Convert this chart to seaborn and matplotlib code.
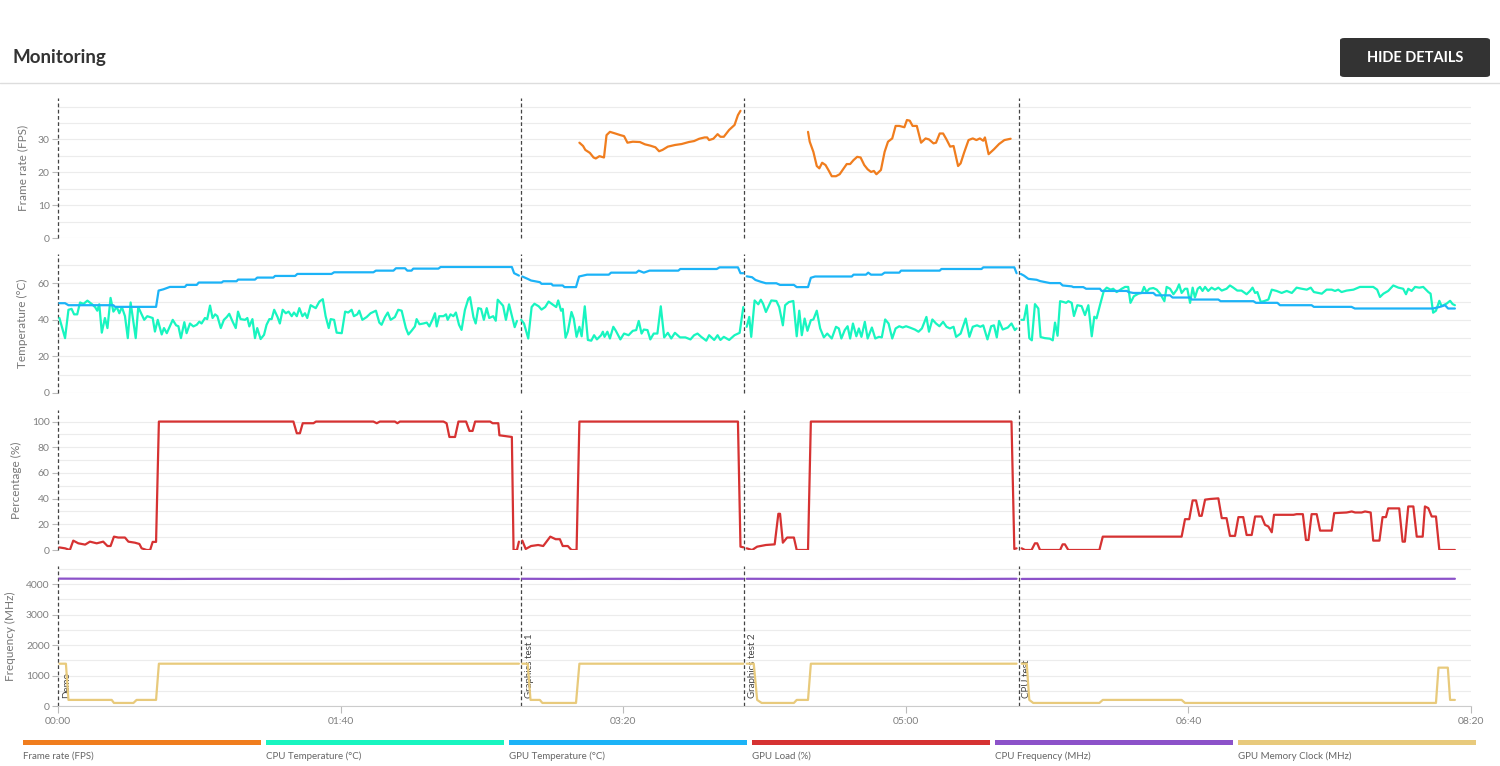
import numpy as np
import pandas as pd
import matplotlib
matplotlib.use("Agg")
import matplotlib.pyplot as plt
import seaborn as sns
from matplotlib.ticker import MultipleLocator, FixedLocator, FuncFormatter
from matplotlib.patches import Rectangle, FancyBboxPatch
from matplotlib.lines import Line2D

sns.set_theme(style="white")
plt.rcParams["font.family"] = ["Lato", "DejaVu Sans"]

# test markers (seconds)
marker_t = [0, 163.8, 242.8, 339.9]
marker_names = ["Demo", "Graphics test 1", "Graphics test 2", "CPU test"]

# Frame rate (FPS)
fps_t = [184.5, 185.8, 186.6, 188.2, 189.5, 190.3, 191.6, 193.2, 194.1, 195.3, 197.2, 199.0, 200.3,
         201.5, 203.4, 205.9, 207.7, 209.6, 211.4, 212.7, 213.9, 215.8, 218.3, 220.7, 223.2, 225.1,
         226.9, 228.8, 229.7, 230.4, 231.9, 233.4, 234.4, 235.6, 237.5, 239.4, 240.6, 241.5,
         265.4, 266.0, 267.3, 268.5, 269.4, 270.4, 271.6, 272.8, 273.8, 275.3, 276.6, 277.8, 279.1,
         280.3, 281.5, 282.8, 284.0, 285.3, 286.5, 287.7, 288.7, 289.6, 291.2, 292.5, 293.7, 295.2,
         296.4, 297.7, 299.5, 300.4, 301.4, 302.4, 303.9, 305.4, 307.0, 308.2, 309.8, 310.7, 312.0,
         313.2, 314.4, 315.7, 316.9, 318.5, 319.4, 320.6, 322.2, 323.7, 325.0, 326.2, 327.4, 328.0,
         329.3, 331.2, 333.0, 334.9, 337.1]
fps_v = [29, 28, 26.8, 25.9, 24.5, 24.2, 24.9, 24.5, 31.3, 32.3, 31.8, 31.3, 31,
         29, 29.3, 29.2, 28.5, 28.1, 27.6, 26.4, 26.8, 27.8, 28.3, 28.6, 29.2, 29.5,
         30.2, 30.6, 30.6, 29.8, 30.2, 31.6, 30.8, 30.8, 32.9, 34.4, 37.4, 38.7,
         32.3, 29.3, 26.2, 21.9, 21.2, 22.9, 22.2, 20.4, 18.8, 18.8, 19.4, 20.9, 22.5,
         22.5, 23.7, 24.7, 24.5, 22.2, 20.9, 20.1, 20.4, 19.4, 20.7, 26.2, 29.3, 30.3,
         34.1, 34.1, 33.7, 35.9, 35.7, 34.1, 34.1, 29, 30.3, 30, 28.8, 29, 31.8,
         31.8, 30, 27.8, 28, 21.9, 22.7, 25.9, 29.8, 30.3, 29.8, 30.3, 29.6, 30.6,
         25.5, 27, 28.6, 29.8, 30.2]

# CPU Temperature (°C)
cpu_temp_t = [0.5, 2.5, 3.7, 4.8, 5.7, 6.8, 7.8, 9.0, 10.4, 11.9, 13.1, 13.9, 14.6, 15.5, 16.6, 17.5,
              18.6, 19.6, 20.8, 21.7, 22.6, 23.7, 24.7, 25.7, 27.5, 28.4, 29.6, 30.5, 31.6, 33.5, 34.3,
              35.3, 36.7, 37.5, 38.5, 40.6, 41.8, 42.6, 43.5, 44.7, 45.5, 46.7, 47.9, 49.1, 50.0, 50.8,
              52.0, 52.8, 53.8, 54.7, 55.6, 56.4, 57.6, 58.7, 59.7, 60.6, 61.8, 62.9, 63.7, 64.6, 66.2,
              67.0, 67.7, 68.8, 69.7, 70.5, 71.7, 72.9, 73.8, 74.8, 75.6, 76.5, 77.7, 78.5, 79.5, 80.6,
              81.6, 82.7, 83.5, 84.5, 85.4, 86.5, 87.4, 88.2, 89.4, 91.2, 92.5, 93.7, 94.7, 95.8, 96.5,
              97.7, 98.6, 100.4, 101.6, 102.7, 103.9, 104.7, 105.9, 106.6, 107.7, 109.2, 110.6, 112.5,
              113.7, 114.5, 115.7, 116.7, 117.7, 119.2, 120.4, 121.6, 123.1, 124.0, 125.1, 126.3, 126.9,
              127.9, 129.3, 130.5, 131.4, 132.6, 133.4, 134.0, 134.9, 136.4, 137.3, 137.9, 138.9, 139.9,
              140.8, 141.9, 142.8, 144.0, 145.2, 145.8, 147.0, 147.8, 148.7, 149.7, 150.7, 151.7, 152.6,
              154.0, 154.9, 155.6, 157.5, 158.5, 159.6, 161.6, 162.4, 163.9, 164.9, 166.4, 167.6, 168.6,
              170.1, 171.1, 172.4, 173.6, 175.1, 176.3, 177.0, 178.0, 178.6, 179.6, 180.4, 181.7, 182.5,
              183.5, 184.5, 185.3, 186.4, 187.5, 188.7, 189.7, 190.7, 192.2, 192.8, 193.4, 194.4, 195.3,
              196.5, 197.4, 199.0, 200.3, 201.9, 203.4, 204.6, 205.5, 206.5, 207.3, 208.6, 209.6, 210.8,
              212.1, 213.3, 214.5, 215.8, 217.0, 218.3, 220.1, 222.0, 223.8, 225.1, 226.3, 227.6, 229.4,
              230.4, 232.2, 233.4, 234.4, 235.6, 237.5, 239.4, 241.2, 242.5,
              243.7, 244.6, 245.3, 246.5, 247.8, 248.7, 249.5, 250.5, 252.4, 254.2, 255.2, 256.5, 257.3,
              258.6, 260.2, 261.4, 262.3, 263.2, 264.2, 265.2, 266.4, 267.3, 268.5, 269.7, 271.0, 272.2,
              273.8, 275.3, 276.3, 277.2, 278.4, 279.4, 280.3, 281.3, 282.5, 283.4, 284.3, 285.5, 286.5,
              288.0, 289.2, 290.5, 291.5, 292.7, 293.9, 295.2, 296.4, 297.7, 298.9, 300.1, 301.4, 303.2,
              304.5, 305.7, 307.3, 308.2, 309.4, 310.7, 311.9, 313.2, 314.4, 315.6, 316.9, 317.8, 319.4,
              321.2, 322.5, 323.7, 325.2, 326.4, 327.4, 328.9, 330.2, 331.2, 332.2, 333.0, 334.3, 336.1,
              337.4, 338.6, 339.2,
              340.9, 341.8, 342.8, 343.7, 344.6, 345.7, 346.9, 347.7, 349.2, 351.0, 352.0, 352.8, 353.7,
              354.6, 355.7, 356.7, 357.5, 358.7, 359.5, 360.7, 362.2, 363.4, 364.6, 365.8, 366.7, 367.5,
              368.7, 370.1, 371.1, 372.5, 373.4, 374.6, 375.5, 376.4, 377.6, 378.7, 379.5, 380.7, 382.3,
              383.5, 384.3, 385.2, 386.2, 387.6, 388.8, 390.0, 391.5, 392.3, 393.5, 394.7, 395.9, 396.7,
              397.6, 398.8, 399.6, 400.6, 401.5, 402.3, 403.3, 404.1, 405.0, 405.9, 407.0, 408.2, 409.4,
              410.6, 411.8, 413.5, 414.7, 415.9, 417.3, 418.8, 420.6, 421.8, 422.7, 423.6, 424.4, 425.6,
              426.7, 428.3, 429.5, 431.2, 433.0, 434.8, 436.6, 438.3, 440.1, 441.9, 443.3, 444.4, 446.0,
              447.2, 448.9, 450.7, 451.9, 453.0, 454.2, 456.0, 458.4, 460.7, 463.1, 465.4, 466.8, 467.8,
              469.0, 470.7, 472.5, 474.3, 476.0, 477.0, 477.8, 479.0, 480.2, 481.7, 483.1, 484.9, 485.7,
              486.6, 487.6, 488.8, 489.6, 491.4, 492.6, 493.5, 494.3]
cpu_temp_v = [41, 30, 45.5, 46, 43, 43, 49.5, 48.7, 50.5, 48.7, 47, 45, 48.5, 33, 41, 35.5,
              52, 44.5, 47, 43.6, 47, 42, 30, 49.5, 30, 47, 43, 40, 42, 41, 33.6,
              40, 32, 35.5, 32.7, 40, 37, 36.5, 30, 38.7, 32.7, 38, 36.4, 37.3, 39, 38,
              41, 40.4, 47.8, 41, 43, 42, 35.5, 40, 41.5, 43.3, 39, 35.5, 44.5, 40.4, 40,
              41, 36.4, 40.4, 30, 35.5, 29.5, 31.8, 37.3, 40.4, 40.4, 45.5, 41.5, 38, 45.5, 43.6,
              44.5, 42, 44, 42, 46.4, 42, 43.6, 41, 48, 46.4, 50, 51.3, 42, 35.5, 40.4,
              40, 33, 32.7, 44.5, 44, 45.5, 42, 43, 45, 40, 41.5, 43.6, 45,
              38.5, 37.3, 41.5, 44, 40, 41.5, 45.5, 45, 35.5, 32, 34, 36.4, 40.4,
              37.6, 38, 38.5, 36.4, 40.4, 43.6, 36.4, 42, 42, 43, 40, 43, 42,
              44, 37.3, 34.5, 45.5, 51.5, 52.4, 41.5, 38, 46.4, 46, 40, 46.4, 41,
              42, 39.5, 51, 47.7, 40, 48.5, 36, 39.4, 40, 38, 29.8, 47, 48.8,
              47.4, 45.6, 47, 50, 48.3, 47, 50.6, 45, 46, 30.2, 33.5, 44.3, 40.7,
              30.7, 36.2, 31, 47.4, 29, 28.6, 31.6, 29.3, 31.6, 33.5, 30.7, 33.5, 29.8,
              36.2, 34, 29.3, 32.5, 31.6, 34, 34.4, 39.4, 32.5, 34.7, 34.4, 29.3, 32.5,
              32.5, 47.4, 30.4, 32.9, 29.8, 32.9, 30.4, 30.4, 29.3, 31.6, 32.5, 30.7, 28.6,
              31.6, 29, 31.6, 29, 30.7, 29, 31.6, 32.9, 47,
              36.2, 41.6, 30.7, 50.6, 48.5, 51, 48.8, 44.3, 50.6, 50.3, 47, 37, 48,
              49.7, 50.3, 31, 45, 31.6, 40.7, 34, 39.8, 40.2, 45, 35.3, 30.4, 32.5,
              29.8, 36.2, 35.3, 29.8, 34.4, 36.5, 29.8, 38, 31, 35.3, 30.7, 38.9, 29.8,
              35.8, 29.8, 30.7, 30.4, 40.2, 38, 29.8, 35.3, 36.5, 35.8, 36.5, 35.8, 34.7,
              33.5, 35.3, 41.6, 33.5, 40.2, 38, 36.5, 38.9, 36.2, 35.3, 36.2, 30.7, 32.5,
              40.7, 30.7, 36.2, 37, 36.2, 37, 29.3, 36.5, 37, 30.4, 39.4, 34.7, 35.8,
              38, 34.4, 35.3,
              40, 40, 48, 30, 28.8, 48.6, 46.2, 30.6, 30, 29.7, 28.8, 38.5, 31.3,
              50.2, 49.8, 49.3, 50.2, 49.3, 42.1, 48, 47.5, 42.6, 48, 31, 41.7, 40.8,
              48, 56, 57.6, 56.5, 57, 55.2, 56, 57, 58, 58, 49.3, 52.9, 54.3,
              54.7, 58, 55.2, 57, 57.4, 56.5, 54.3, 50.2, 58, 57, 54, 56.5, 59.4,
              54.7, 57, 57, 49.3, 57.6, 52.2, 57, 58, 55.8, 58, 55.8, 57.6, 56.5,
              57.6, 56, 57, 58.8, 57.6, 56, 56, 54, 55.8, 57.6, 54.7, 55.2, 49.8,
              50.2, 51.1, 56.5, 55.8, 54.7, 55.8, 54.7, 57.6, 57, 56.5, 57.6, 55.2, 54.7,
              54.3, 56.5, 56.5, 55.8, 56.5, 55.2, 56, 56.5, 58, 58, 58, 56.5, 52.5,
              54.3, 55.8, 58.8, 57.6, 57, 54, 57, 55.8, 58, 57.6, 58, 55.2, 54.3,
              43.9, 45, 50.4, 47.5, 48.9, 50.4, 48.6, 48]

# GPU Temperature (°C)
gpu_temp_t = [0.5, 2.5, 3.7, 19.6, 20.2, 34.7, 35.6, 37.3, 39.6, 44.9, 45.5, 49.1, 49.8, 57.9, 58.5,
              63.2, 63.7, 69.7, 70.5, 76.2, 76.8, 83.9, 84.7, 96.8, 97.7, 111.6, 112.5, 118.7, 119.6,
              122.8, 123.6, 125.1, 125.7, 134.6, 135.4, 160.6, 161.4, 163.1,
              164.3, 166.2, 167.4, 170.5, 171.1, 174.6, 175.1, 178.6, 179.2, 183.3, 184.4, 187.2, 194.9,
              195.7, 204.6, 205.5, 207.3, 209.3, 219.5, 220.2, 233.1, 234.1, 240.6, 241.5, 242.5,
              243.7, 245.6, 246.8, 248.7, 250.5, 254.2, 255.5, 260.4, 261.4, 265.4, 266.4, 267.9, 280.9,
              281.5, 285.9, 286.7, 287.7, 291.5, 292.5, 297.7, 298.3, 312.0, 312.6, 326.8, 327.4, 338.4,
              339.2,
              340.7, 341.8, 343.4, 346.3, 347.5, 351.0, 354.6, 355.5, 358.7, 359.3, 362.8, 363.8, 368.7,
              369.3, 378.2, 378.8, 380.5, 387.6, 388.5, 393.5, 394.4, 400.6, 401.2, 410.6, 411.4, 423.0,
              423.9, 431.5, 432.4, 443.6, 444.4, 457.7, 458.9, 486.6, 489.0, 490.8, 491.9, 494.3]
gpu_temp_v = [49.1, 49.1, 48, 48, 47.1, 47.1, 56, 56.7, 58, 58, 59.1, 59.1, 60.4, 60.4, 61.1,
              61.1, 62, 62, 63.1, 63.1, 64, 64, 65.1, 65.1, 66, 66, 66.9, 66.9, 68.2,
              68.2, 66.9, 66.9, 68, 68, 68.9, 68.9, 65.5, 64.2,
              63.7, 62.4, 61.5, 60.6, 59.7, 59.7, 58.8, 58.8, 57.9, 57.9, 63.7, 64.7, 64.7,
              65.8, 65.8, 66.9, 65.8, 66.9, 66.9, 67.8, 67.8, 68.7, 68.7, 65.5, 65.5,
              63.8, 63.3, 61.8, 60.8, 60, 60, 59.1, 59.1, 57.9, 57.9, 63, 63.7, 63.7,
              64.7, 64.7, 65.8, 64.7, 64.7, 65.8, 65.8, 66.9, 66.9, 67.8, 67.8, 68.7, 68.7,
              65.5,
              65.1, 64.2, 62.4, 61.9, 61.2, 60.1, 60.1, 58.8, 58.3, 57.9, 57.9, 57, 57,
              55.8, 55.8, 55.2, 54.7, 54.7, 53.4, 53.4, 52.2, 52.2, 51.1, 51.1, 50.2, 50.2,
              49.3, 49.3, 48, 48, 47.1, 47.1, 46.2, 46.2, 47.1, 48, 46.2, 46.2]

# GPU Load (%)
gpu_load_t = [0.5, 2.5, 4.2, 5.4, 7.2, 9.6, 11.3, 13.7, 16.0, 17.5, 18.6, 19.8, 21.3, 23.7, 24.9, 27.2,
              28.8, 29.6, 31.4, 32.6, 33.5, 34.7, 35.7, 83.3, 84.5, 85.6, 86.6, 90.4, 91.3, 111.6, 112.8,
              113.9, 119.2, 120.1, 121.0, 136.4, 137.5, 138.5, 140.5, 141.7, 144.4, 145.6, 146.7, 147.6,
              152.9, 153.8, 155.8, 156.2, 160.6, 161.2, 162.4, 163.1,
              164.3, 165.5, 167.4, 169.9, 171.7, 174.2, 176.1, 177.6, 178.6, 180.4, 181.7, 183.5, 184.5,
              240.6, 241.5, 242.5,
              243.7, 245.6, 247.4, 250.5, 253.6, 254.9, 255.5, 256.5, 258.0, 260.4, 261.4, 265.4, 266.4,
              337.4, 338.4, 339.2,
              341.0, 342.2, 344.5, 345.7, 346.5, 347.5, 354.6, 355.5, 356.3, 357.5, 368.5, 369.7, 397.6,
              398.8, 400.3, 401.5, 402.7, 403.9, 404.7, 405.9, 407.6, 410.6, 411.8, 413.5, 414.7, 416.5,
              417.7, 419.4, 420.6, 422.4, 423.6, 425.9, 427.1, 428.3, 429.5, 430.3, 437.2, 438.3, 440.5,
              441.6, 442.5, 443.6, 445.4, 446.6, 450.7, 451.6, 456.0, 457.8, 459.0, 461.3, 462.5, 464.5,
              465.4, 467.6, 468.7, 469.9, 470.7, 474.6, 475.8, 476.6, 477.8, 479.6, 480.8, 482.9, 483.7,
              484.9, 486.1, 487.6, 488.8, 494.3]
gpu_load_v = [2, 1.3, 0, 7.3, 5.2, 4.2, 6.5, 5.2, 6.5, 3.1, 3.1, 10.4, 9.7, 9.7, 6.5, 5.7,
              4.7, 1.3, 0, 0, 6.3, 6.3, 100, 100, 90.9, 90.9, 98.7, 98.7, 100, 100, 98.7,
              100, 100, 98.7, 100, 100, 98.7, 88, 88, 100, 100, 92.7, 92.7, 100,
              100, 98.7, 98.7, 89.3, 88, 0, 0, 6.5,
              7.3, 0.8, 3.1, 3.9, 3.1, 10.4, 8.4, 8.4, 3.1, 3.1, 0, 0, 100,
              100, 2.6, 2.1,
              1.3, 0, 2.6, 3.9, 4.4, 28.2, 28.2, 5.7, 9.7, 9.7, 0, 0, 100,
              100, 0.8, 1.3,
              1.3, 0, 0, 5.2, 5.2, 0, 0, 4.4, 4.4, 0, 0, 10.4, 10.4,
              24, 24, 38.6, 38.6, 26.6, 26.6, 39.2, 39.7, 40.2, 24.8, 24.8, 11, 11,
              25.6, 25.6, 11.7, 11.7, 26.1, 26.1, 19.6, 18.3, 13.8, 27.4, 27.4, 27.9, 27.9,
              7.8, 7.8, 27.9, 27.9, 15.1, 15.1, 28.7, 29.2, 30, 29.2, 29.2, 30, 29.2,
              7.3, 7.3, 25.6, 25.6, 32.4, 32.4, 6.5, 6.5, 33.9, 33.9, 10.4, 10.4, 33.9,
              32.6, 26.1, 26.1, 0, 0]

# CPU Frequency (MHz)
cpu_freq_t = [0.5, 20, 40, 60, 80, 100, 120, 140, 163.1,
              164.3, 180, 200, 220, 242.5,
              243.7, 270, 300, 320, 339.2,
              341.0, 370, 400, 430, 460, 494.3]
cpu_freq_v = [4185, 4180, 4175, 4180, 4180, 4175, 4180, 4180, 4175,
              4180, 4175, 4180, 4175, 4180,
              4180, 4175, 4180, 4175, 4180,
              4175, 4180, 4175, 4180, 4175, 4180]

# GPU Memory Clock (MHz)
mem_clock_t = [0.5, 2.8, 3.7, 19.0, 19.8, 26.7, 27.8, 34.7, 35.7, 163.1,
               164.3, 166.2, 167.2, 170.5, 171.4, 183.3, 184.5, 242.5,
               243.7, 246.2, 247.4, 249.0, 260.4, 261.4, 265.4, 266.4, 339.2,
               341.0, 342.8, 343.7, 345.1, 368.5, 369.7, 397.6, 398.8, 487.6, 488.5, 491.8, 492.6, 494.3]
mem_clock_v = [1390, 1390, 200, 200, 100, 100, 200, 200, 1390, 1390,
               1390, 1390, 200, 200, 100, 100, 1390, 1390,
               1390, 1390, 200, 100, 100, 200, 200, 1390, 1390,
               1390, 1390, 200, 100, 100, 200, 200, 100, 100, 1260, 1260, 200, 200]

series_names = ["Frame rate (FPS)", "CPU Temperature (°C)", "GPU Temperature (°C)",
                "GPU Load (%)", "CPU Frequency (MHz)", "GPU Memory Clock (MHz)"]
series_colors = ["#f07d1e", "#18f5c0", "#1cb3f7", "#d63232", "#8c52c9", "#e8ca7c"]

W, H = 1500, 766
fig = plt.figure(figsize=(W / 100, H / 100), dpi=100)
fig.patch.set_facecolor("white")


def draw(ax, t, v, color):
    df = pd.DataFrame({"t": t, "v": v})
    df["seg"] = np.searchsorted(marker_t, df["t"], side="right")
    sns.lineplot(data=df, x="t", y="v", units="seg", estimator=None, color=color,
                 lw=1.6, ax=ax, legend=False, zorder=3)


# panel boxes in pixels: (top, bottom)
panels = [(98, 238), (254, 393), (410, 550), (566, 706)]
ylabels = ["Frame rate (FPS)", "Temperature (°C)", "Percentage (%)", "Frequency (MHz)"]
ylims = [42.6, 76, 109, 4600]
major_ticks = [[0, 10, 20, 30], [0, 20, 40, 60], [0, 20, 40, 60, 80, 100], [0, 1000, 2000, 3000, 4000]]
minor = [5, 10, 10, 500]

axes = []
for i, (top, bot) in enumerate(panels):
    ax = fig.add_axes([58 / W, 1 - bot / H, 1413 / W, (bot - top) / H])
    axes.append(ax)

draw(axes[0], fps_t, fps_v, series_colors[0])
draw(axes[1], cpu_temp_t, cpu_temp_v, series_colors[1])
draw(axes[1], gpu_temp_t, gpu_temp_v, series_colors[2])
draw(axes[2], gpu_load_t, gpu_load_v, series_colors[3])
draw(axes[3], cpu_freq_t, cpu_freq_v, series_colors[4])
draw(axes[3], mem_clock_t, mem_clock_v, series_colors[5])

for i, ax in enumerate(axes):
    ax.set_xlim(0, 500)
    ax.set_ylim(0, ylims[i])
    ax.yaxis.set_major_locator(FixedLocator(major_ticks[i]))
    ax.yaxis.set_minor_locator(MultipleLocator(minor[i]))
    ax.grid(which="both", axis="y", color="#ececec", lw=0.8)
    ax.grid(False, axis="x")
    ax.set_axisbelow(True)
    for s in ["top", "right", "bottom", "left"]:
        ax.spines[s].set_visible(False)
    ax.tick_params(axis="y", which="major", left=True, length=4, width=0.8, color="#bbbbbb",
                   labelsize=7.5, labelcolor="#808080", pad=2)
    ax.tick_params(axis="y", which="minor", left=False)
    ax.set_ylabel(ylabels[i], fontsize=8.5, color="#777777", labelpad=7)
    ax.set_xlabel("")
    for m in marker_t:
        ax.axvline(m, color="#444444", ls=(0, (3, 2)), lw=0.9, zorder=2, clip_on=False)
    if i < 3:
        ax.tick_params(axis="x", bottom=False, labelbottom=False)

axb = axes[3]
axb.spines["bottom"].set_visible(True)
axb.spines["bottom"].set_color("#cccccc")
axb.spines["bottom"].set_linewidth(0.8)
axb.set_xticks([0, 100, 200, 300, 400, 500])
axb.xaxis.set_major_formatter(FuncFormatter(lambda x, p: f"{int(x) // 60:02d}:{int(x) % 60:02d}"))
axb.tick_params(axis="x", bottom=True, length=5, width=0.8, color="#bbbbbb",
                labelsize=7.5, labelcolor="#808080", pad=3)
for m, name in zip(marker_t, marker_names):
    axb.text(m + 1.3, 0.06, name, transform=axb.get_xaxis_transform(), rotation=90,
             ha="left", va="bottom", fontsize=7, color="#444444", zorder=2)

# header
fig.text(13 / W, 1 - 58 / H, "Monitoring", fontsize=13.5, fontweight="bold", color="#333333",
         va="center", ha="left")
fig.add_artist(Line2D([0, 1], [1 - 83 / H] * 2, color="#dddddd", lw=1))
fig.add_artist(FancyBboxPatch((1340 / W, 1 - 77 / H), 150 / W, 39 / H,
                              boxstyle="round,pad=0,rounding_size=0.003",
                              fc="#333333", ec="none", transform=fig.transFigure))
fig.text(1415 / W, 1 - 57.5 / H, "HIDE DETAILS", fontsize=10.5, fontweight="bold",
         color="white", ha="center", va="center")

# legend bars
for k, (name, col) in enumerate(zip(series_names, series_colors)):
    x0 = 23 + k * 243
    fig.add_artist(Rectangle((x0 / W, 1 - 745 / H), 238 / W, 5 / H, fc=col, ec="none",
                             transform=fig.transFigure))
    fig.text(x0 / W, 1 - 756 / H, name, fontsize=7, color="#666666", ha="left", va="center")

fig.savefig("out.png", dpi=100)
